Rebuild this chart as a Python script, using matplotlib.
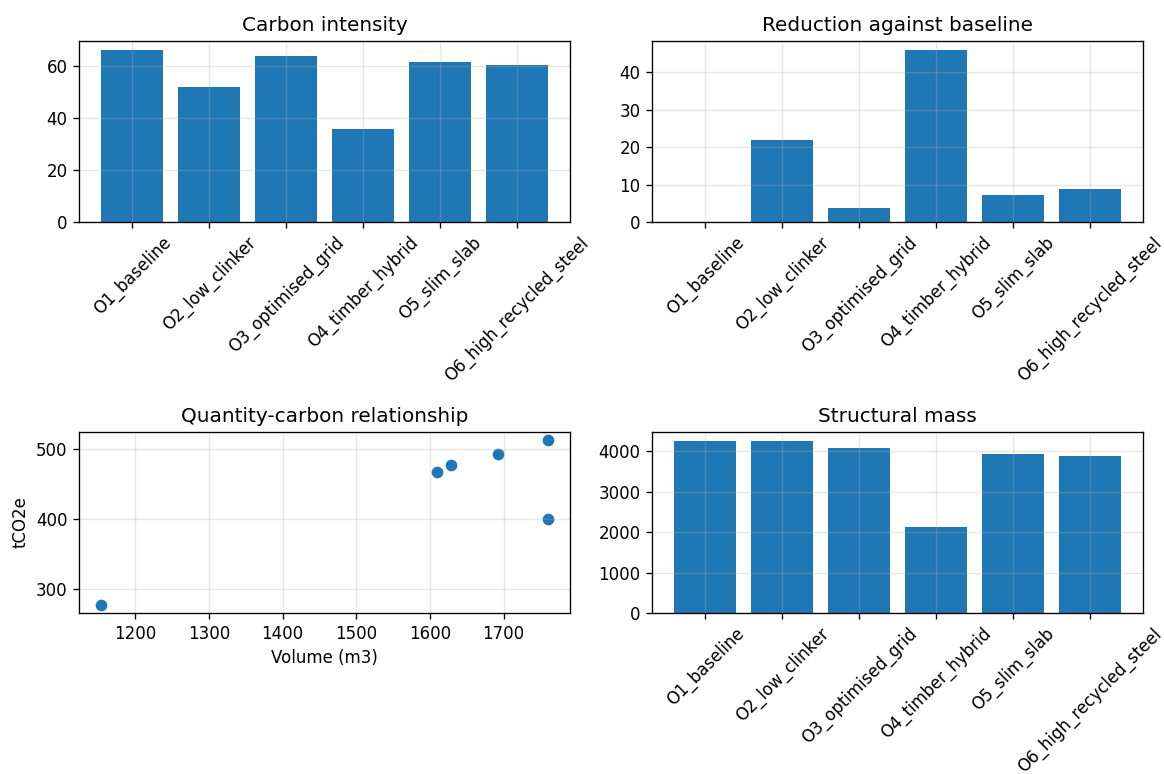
import matplotlib
matplotlib.use("Agg")
import matplotlib.pyplot as plt
import numpy as np

options = ["O1_baseline", "O2_low_clinker", "O3_optimised_grid",
           "O4_timber_hybrid", "O5_slim_slab", "O6_high_recycled_steel"]
carbon_intensity = [66.1, 51.6, 63.6, 35.7, 61.4, 60.2]
reduction_pct = [0.0, 21.9, 3.8, 46.0, 7.1, 8.8]
volume_m3 = [1760, 1760, 1693, 1154, 1629, 1610]
carbon_t = [512, 400, 493, 277, 476, 467]
mass_t = [4263, 4263, 4091, 2134, 3933, 3893]

fig, axes = plt.subplots(2, 2, figsize=(9.7, 6.45), dpi=120)

ax = axes[0, 0]
ax.bar(options, carbon_intensity)
ax.set_title("Carbon intensity")
ax.tick_params(axis="x", rotation=45)
ax.grid(alpha=0.3)

ax = axes[0, 1]
ax.bar(options, reduction_pct)
ax.set_title("Reduction against baseline")
ax.tick_params(axis="x", rotation=45)
ax.grid(alpha=0.3)

ax = axes[1, 0]
ax.scatter(volume_m3, carbon_t)
ax.set_title("Quantity-carbon relationship")
ax.set_xlabel("Volume (m3)")
ax.set_ylabel("tCO2e")
ax.grid(alpha=0.3)

ax = axes[1, 1]
ax.bar(options, mass_t)
ax.set_title("Structural mass")
ax.tick_params(axis="x", rotation=45)
ax.grid(alpha=0.3)

# layout matched to the cropped reference
fig.subplots_adjust(left=0.068, right=0.982, top=0.947, bottom=0.208,
                    wspace=0.167, hspace=1.16)
fig.savefig("out.png")
